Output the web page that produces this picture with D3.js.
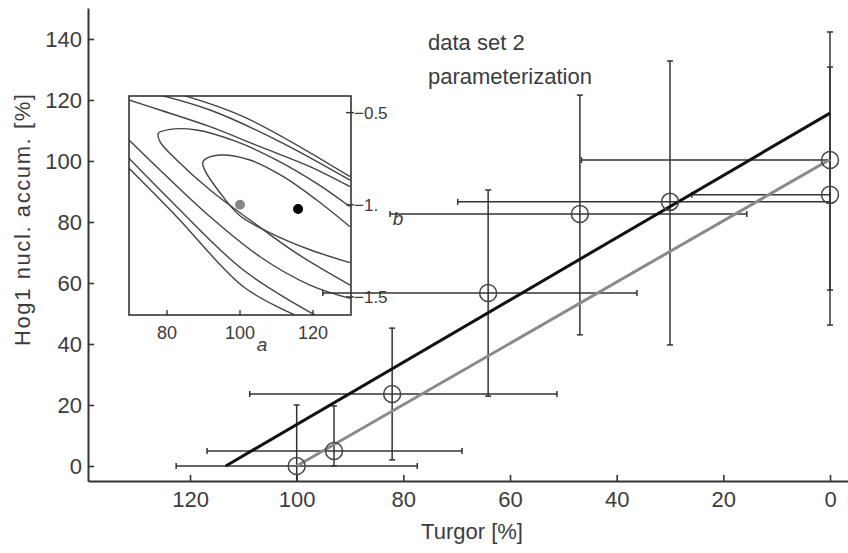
<!DOCTYPE html>
<html><head><meta charset="utf-8">
<script src="https://cdn.jsdelivr.net/npm/d3@7"></script>
<style>
body{margin:0;background:#fff}
svg{display:block}
text{font-family:"Liberation Sans",Arial,sans-serif;fill:#3c3c3c}
</style></head>
<body><svg id="c" width="848" height="553"></svg>
<script>
// ---------- data ----------
const xTicks=[120,100,80,60,40,20,0];
const yTicks=[0,20,40,60,80,100,120,140];
const turgor=[100,93,82.1,64.1,46.9,30,0,0];
const hog1=[0,4.9,23.6,56.7,82.6,86.6,100.3,88.9];
const turgorLo=[122.6,116.8,108.8,95.1,82.5,69.8,46.6,25.9];
const turgorHi=[77.4,69,51.2,36.2,15.6,0,0,0];
const hog1Lo=[-20,0,2,22.9,43,39.7,57.7,46.2];
const hog1Hi=[20,19.7,45.2,90.5,121.6,132.8,142.3,130.8];
const fitBlack=[[113.3,0],[0,115.7]];
const fitGray=[[100,0],[0,100.5]];
const titleLines=["data set 2","parameterization"];
// inset
const insetATicks=[80,100,120];
const insetBTicks=[-0.5,-1,-1.5];
const insetBLabels=["\u22120.5","\u22121.","\u22121.5"];
const optBlack=[115.9,-1.023];
const optGray=[100,-1.0];
const contourLines=[
 [[130.13,-1.119],[121.0,-0.9743],[111.87,-0.8477],[102.74,-0.7573],[94.52,-0.7301],[90.42,-0.7536],[89.78,-0.7718],[90.42,-0.815],[94.52,-0.935],[100.0,-1.06],[108.22,-1.152],[119.17,-1.244],[130.13,-1.3143]],
 [[130.13,-1.0105],[121.0,-0.8839],[110.05,-0.7573],[99.09,-0.6578],[88.13,-0.5945],[80.83,-0.5909],[77.63,-0.6126],[78.09,-0.6578],[82.66,-0.7573],[91.79,-0.92],[102.74,-1.0828],[115.52,-1.2637],[130.13,-1.4355]],
 [[69.6,-0.4317],[78.09,-0.486],[91.79,-0.5764],[105.48,-0.685],[119.17,-0.7934],[130.13,-0.902]],
 [[69.6,-0.6487],[78.09,-0.8115],[91.79,-1.0647],[105.48,-1.2818],[119.17,-1.4355],[130.13,-1.5078]],
 [[76.26,-0.3955],[91.79,-0.486],[110.05,-0.6487],[130.13,-0.8658]],
 [[69.6,-0.7482],[82.66,-1.0105],[100.92,-1.3541],[120.54,-1.5983]],
 [[82.66,-0.3955],[100.92,-0.522],[130.13,-0.8477]],
 [[69.6,-0.8025],[82.66,-1.0647],[100.92,-1.4446],[115.07,-1.5983]]
];

// ---------- layout ----------
const svg=d3.select("#c");
const L=88,R=848,T=8,B=481;
const x=d3.scaleLinear().domain([139.13,-3.375]).range([L,R]);
const y=d3.scaleLinear().domain([-4.92,150.16]).range([B,T]);
const axCol="#333";

// ---------- inset ----------
const iL=129,iR=351,iT=96,iB=315;
const ix=d3.scaleLinear().domain([69.6,130.4]).range([iL,iR]);
const iy=d3.scaleLinear().domain([-1.598,-0.41]).range([iB,iT]);
const ins=svg.append("g");
ins.append("rect").attr("x",iL).attr("y",iT).attr("width",iR-iL).attr("height",iB-iT)
  .attr("fill","#fff");
svg.append("clipPath").attr("id","ic").append("rect")
  .attr("x",iL).attr("y",iT).attr("width",iR-iL).attr("height",iB-iT);
const cl=d3.line().x(d=>ix(d[0])).y(d=>iy(d[1])).curve(d3.curveCatmullRom.alpha(0.5));
ins.append("g").attr("clip-path","url(#ic)").selectAll("path").data(contourLines).join("path")
  .attr("d",cl).attr("fill","none").attr("stroke","#444").attr("stroke-width",1.4);
ins.append("rect").attr("x",iL).attr("y",iT).attr("width",iR-iL).attr("height",iB-iT)
  .attr("fill","none").attr("stroke",axCol).attr("stroke-width",1.6);
ins.selectAll("line.ixt").data(insetATicks).join("line")
  .attr("x1",d=>ix(d)).attr("x2",d=>ix(d)).attr("y1",iB).attr("y2",iB-5)
  .attr("stroke",axCol).attr("stroke-width",1.4);
ins.selectAll("text.ixl").data(insetATicks).join("text")
  .attr("x",d=>ix(d)).attr("y",iB+24).attr("text-anchor","middle")
  .style("font-size","18px").text(d=>d);
ins.selectAll("line.iyt").data(insetBTicks).join("line")
  .attr("x1",iR-5).attr("x2",iR+3).attr("y1",d=>iy(d)).attr("y2",d=>iy(d))
  .attr("stroke",axCol).attr("stroke-width",1.4);
ins.selectAll("text.iyl").data(insetBTicks).join("text")
  .attr("x",iR+3).attr("y",d=>iy(d)+6).attr("text-anchor","start")
  .style("font-size","17px").text((d,i)=>insetBLabels[i]);
ins.append("text").attr("x",262).attr("y",351).attr("text-anchor","middle")
  .style("font-size","19px").style("font-style","italic").text("a");
ins.append("text").attr("x",398).attr("y",225).attr("text-anchor","middle")
  .style("font-size","19px").style("font-style","italic").text("b");
ins.append("circle").attr("cx",ix(optGray[0])).attr("cy",iy(optGray[1])).attr("r",5).attr("fill","#888");
ins.append("circle").attr("cx",ix(optBlack[0])).attr("cy",iy(optBlack[1])).attr("r",5).attr("fill","#000");

// ---------- axes ----------
const xa=svg.append("g").attr("transform",`translate(0,${B})`)
  .call(d3.axisTop(x).tickValues(xTicks).tickSize(6).tickSizeOuter(0).tickFormat(d3.format("d")));
xa.select(".domain").attr("stroke",axCol).attr("stroke-width",2);
xa.selectAll(".tick line").attr("stroke",axCol).attr("stroke-width",1.6);
xa.selectAll(".tick text").attr("y",26).attr("dy",0).style("font-size","22px")
  .style("font-family","Liberation Sans, Arial, sans-serif").attr("fill","#3c3c3c");
const ya=svg.append("g").attr("transform",`translate(${L},0)`)
  .call(d3.axisRight(y).tickValues(yTicks).tickSize(6).tickSizeOuter(0));
ya.select(".domain").attr("stroke",axCol).attr("stroke-width",2);
ya.selectAll(".tick line").attr("stroke",axCol).attr("stroke-width",1.6);
ya.selectAll(".tick text").attr("x",-6).attr("text-anchor","end").attr("dy","0.36em")
  .style("font-size","22px").style("font-family","Liberation Sans, Arial, sans-serif").attr("fill","#3c3c3c");

svg.append("text").attr("x",472).attr("y",539).attr("text-anchor","middle")
  .style("font-size","22px").text("Turgor [%]");
svg.append("text").attr("transform","translate(30,220) rotate(-90)").attr("text-anchor","middle")
  .attr("textLength",252).attr("lengthAdjust","spacing")
  .style("font-size","22px").text("Hog1 nucl. accum. [%]");

svg.selectAll("text.ttl").data(titleLines).join("text")
  .attr("x",428).attr("y",(d,i)=>50+i*34).style("font-size","22px").text(d=>d);

// ---------- data marks ----------
const yClip=v=>y(Math.max(v,y.domain()[0]));
const eb=svg.append("g").attr("stroke","#333").attr("stroke-width",1.5).attr("fill","none");
const cap=3;
turgor.forEach((t,i)=>{
  eb.append("line").attr("x1",x(turgorLo[i])).attr("x2",x(turgorHi[i])).attr("y1",y(hog1[i])).attr("y2",y(hog1[i]));
  [turgorLo[i],turgorHi[i]].forEach(v=>eb.append("line").attr("x1",x(v)).attr("x2",x(v)).attr("y1",y(hog1[i])-cap).attr("y2",y(hog1[i])+cap));
  eb.append("line").attr("x1",x(t)).attr("x2",x(t)).attr("y1",yClip(hog1Lo[i])).attr("y2",y(hog1Hi[i]));
  [hog1Lo[i],hog1Hi[i]].forEach(v=>{ if(v>y.domain()[0]) eb.append("line").attr("x1",x(t)-cap).attr("x2",x(t)+cap).attr("y1",y(v)).attr("y2",y(v));});
});
const ln=d3.line().x(d=>x(d[0])).y(d=>y(d[1]));
svg.append("path").attr("d",ln(fitGray)).attr("stroke","#8a8a8a").attr("stroke-width",3).attr("fill","none");
svg.append("path").attr("d",ln(fitBlack)).attr("stroke","#111").attr("stroke-width",3).attr("fill","none");
svg.selectAll("circle.pt").data(turgor).join("circle")
  .attr("cx",d=>x(d)).attr("cy",(d,i)=>y(hog1[i])).attr("r",8.5)
  .attr("fill","none").attr("stroke","#444").attr("stroke-width",1.5);
</script></body></html>
